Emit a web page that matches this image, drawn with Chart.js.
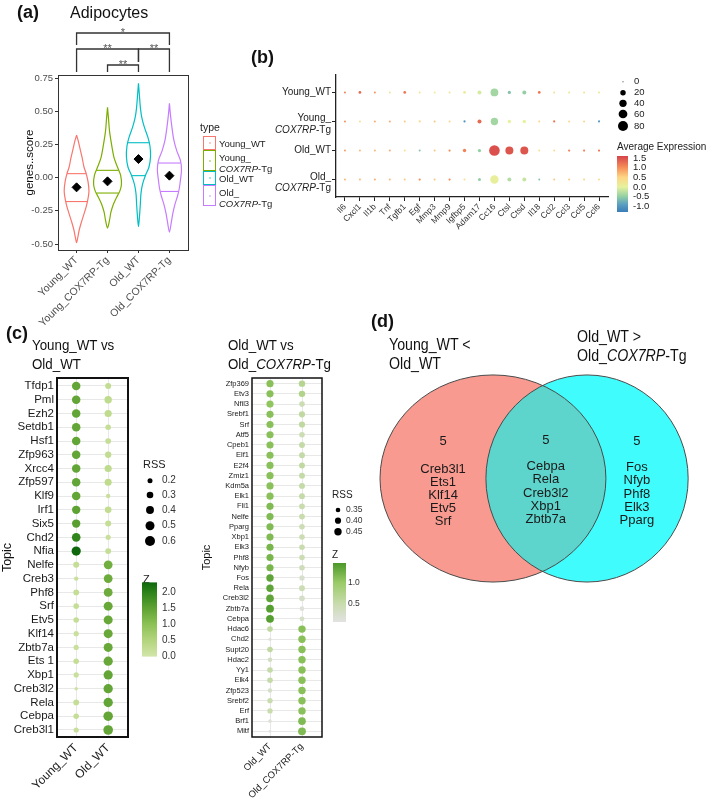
<!DOCTYPE html>
<html>
<head>
<meta charset="utf-8">
<title>Adipocytes</title>
<script src="https://cdn.jsdelivr.net/npm/chart.js@4.4.1/dist/chart.umd.min.js"></script>
<style>
  html, body { margin: 0; padding: 0; background: #fff; }
  #page { position: relative; width: 709px; height: 802px; overflow: hidden; font-family: "Liberation Sans", Arial, sans-serif; color: #111; }
  #page canvas { position: absolute; left: 0; top: 0; }
  .t { position: absolute; white-space: nowrap; }
  .tag { font-weight: bold; font-size: 18px; line-height: 20px; }
  .narrow { transform: scaleX(0.86); transform-origin: 0 0; }
  .key { position: absolute; left: 203px; width: 13px; border: 1px solid; background: #fff; box-sizing: border-box; }
  .key i { position: absolute; left: 4.5px; width: 2px; height: 2px; border-radius: 1px; opacity: 0.5; }
  .leg { left: 219px; font-size: 9.5px; line-height: 11px; color: #222; }
</style>
</head>
<body>
<div id="page">
  <canvas id="violin" width="709" height="802"></canvas>
  <canvas id="dots" width="709" height="802"></canvas>
  <canvas id="topicYO" width="709" height="802"></canvas>
  <canvas id="topicOO" width="709" height="802"></canvas>
  <canvas id="venn" width="709" height="802"></canvas>

  <div class="t tag" style="left:17px;top:2px">(a)</div>
  <div class="t" style="left:70px;top:3px;font-size:16px;line-height:20px">Adipocytes</div>
  <div class="t" style="left:200px;top:121px;font-size:10.5px;line-height:12px;color:#222">type</div>
  <div id="legendA"></div>

  <div class="t tag" style="left:251px;top:47px">(b)</div>

  <div class="t tag" style="left:6px;top:323px">(c)</div>
  <div class="t narrow" style="left:32px;top:336px;font-size:15.5px;line-height:18.5px">Young_WT vs<br>Old_WT</div>
  <div class="t narrow" style="left:228px;top:336px;font-size:15.5px;line-height:18.5px">Old_WT vs<br>Old_<i>COX7RP</i>-Tg</div>

  <div class="t tag" style="left:371px;top:311px">(d)</div>
  <div class="t narrow" style="left:389px;top:335px;font-size:16.5px;line-height:18.5px">Young_WT &lt;<br>Old_WT</div>
  <div class="t narrow" style="left:577px;top:327px;font-size:16.5px;line-height:18.5px">Old_WT &gt;<br>Old_<i>COX7RP</i>-Tg</div>
</div>

<script>
// ---------- (a) violin plot data ----------
const groupsA = ['Young_WT', 'Young_COX7RP-Tg', 'Old_WT', 'Old_COX7RP-Tg'];
const legendA = ['Young_WT', 'Young_<br><i>COX7RP</i>-Tg', 'Old_WT', 'Old_<br><i>COX7RP</i>-Tg'];
const colorsA = ['#F8766D', '#7CAE00', '#00BFC4', '#C77CFF'];
const yTicksA = [-0.5, -0.25, 0, 0.25, 0.5, 0.75];

// violin outlines: score levels (top to bottom) and half width in group units
const levelsYoungWT = [0.32, 0.28, 0.22, 0.15, 0.08, 0.03, -0.03, -0.10, -0.17, -0.22, -0.28, -0.34, -0.40, -0.45, -0.49];
const widthsYoungWT = [0, 0.05, 0.11, 0.18, 0.24, 0.31, 0.37, 0.40, 0.36, 0.31, 0.23, 0.15, 0.08, 0.04, 0];
const levelsYoungTg = [0.53, 0.45, 0.35, 0.25, 0.15, 0.08, 0.02, -0.05, -0.10, -0.15, -0.20, -0.26, -0.32, -0.38];
const widthsYoungTg = [0, 0.03, 0.065, 0.13, 0.21, 0.32, 0.42, 0.45, 0.40, 0.29, 0.19, 0.11, 0.065, 0];
const levelsOldWT = [0.71, 0.62, 0.52, 0.45, 0.38, 0.30, 0.24, 0.16, 0.08, 0.02, -0.05, -0.12, -0.20, -0.30, -0.37];
const widthsOldWT = [0, 0.03, 0.065, 0.11, 0.19, 0.31, 0.37, 0.39, 0.34, 0.23, 0.13, 0.08, 0.06, 0.03, 0];
const levelsOldTg = [0.56, 0.48, 0.38, 0.28, 0.20, 0.13, 0.06, -0.02, -0.08, -0.14, -0.20, -0.27, -0.33, -0.41];
const widthsOldTg = [0, 0.03, 0.08, 0.145, 0.24, 0.355, 0.39, 0.355, 0.32, 0.26, 0.18, 0.11, 0.065, 0];

const q75A = [0.03, 0.055, 0.263, 0.11];
const q25A = [-0.18, -0.116, 0.015, -0.104];
const meanA = [-0.073, -0.028, 0.14, 0.015];

const sigPairs = [[1, 4], [1, 3], [3, 4], [2, 3]];
const sigLabels = ['*', '**', '**', '**'];

// ---------- (b) dot plot data ----------
const genesB = ['Il6', 'Cxcl1', 'Il1b', 'Tnf', 'Tgfb1', 'Egf', 'Mmp3', 'Mmp9', 'Igfbp5', 'Adam17',
                'Cc16', 'Ctsl', 'Ctsd', 'Il18', 'Ccl2', 'Ccl3', 'Ccl5', 'Ccl6'];
const rowsB = [['Young_WT'], ['Young_', '*COX7RP*-Tg'], ['Old_WT'], ['Old_', '*COX7RP*-Tg']];
const pctYoungWT = [1, 3, 1, 1, 3, 1, 1, 1, 3, 9, 46, 5, 9, 3, 1, 1, 1, 1];
const avgYoungWT = [1.1, 1.3, 1.0, 0.2, 1.2, 0.3, 0.1, 0.2, 0.1, -0.1, -0.4, -0.6, -0.5, 1.2, 0.3, 0.2, 0.3, 0.2];
const pctYoungTg = [1, 1, 1, 1, 1, 1.5, 1, 1, 1.5, 9, 41, 6, 6, 1, 1.5, 1, 1, 1.5];
const avgYoungTg = [1.0, 0.3, 0.8, 0.8, 0.6, 0.4, 0.6, 0.5, -1.0, 1.3, -0.4, 0.0, 0.0, 0.5, 1.2, 0.5, 0.5, -0.9];
const pctOldWT = [1, 1, 1, 1, 1, 1, 1, 1.5, 6, 5, 92, 49, 49, 1, 1, 1.5, 1.5, 1.5];
const avgOldWT = [0.9, 0.7, 0.7, 0.8, 0.3, -0.6, 0.6, 1.0, 1.1, -0.5, 1.5, 1.45, 1.45, 0.3, 0.4, 1.1, 1.1, 1.2];
const pctOldTg = [1, 1, 1, 1, 1, 1.5, 1, 1.5, 1, 4, 55, 9, 9, 1, 1, 1, 1, 1];
const avgOldTg = [0.7, 0.7, 0.8, 0.7, 0.6, 1.0, 0.6, 1.0, 0.3, -0.5, 0.05, -0.3, -0.2, -0.6, 0.6, 0.6, 0.5, 0.4];
const sizeTicksB = [0, 20, 40, 60, 80];
const exprTicksB = [1.5, 1.0, 0.5, 0.0, -0.5, -1.0];

// ---------- (c) regulon dot plots ----------
const colsYO = ['Young_WT', 'Old_WT'];
const tfsYO = ['Tfdp1', 'Pml', 'Ezh2', 'Setdb1', 'Hsf1', 'Zfp963', 'Xrcc4', 'Zfp597', 'Klf9', 'Irf1', 'Six5', 'Chd2', 'Nfia',
               'Nelfe', 'Creb3', 'Phf8', 'Srf', 'Etv5', 'Klf14', 'Zbtb7a', 'Ets 1', 'Xbp1', 'Creb3l2', 'Rela', 'Cebpa', 'Creb3l1'];
const rssYoungWT = [0.45, 0.45, 0.45, 0.45, 0.45, 0.45, 0.45, 0.45, 0.45, 0.44, 0.44, 0.46, 0.52,
                    0.26, 0.17, 0.24, 0.23, 0.23, 0.21, 0.21, 0.23, 0.21, 0.13, 0.24, 0.23, 0.21];
const zYoungWT = [1.45, 1.45, 1.45, 1.45, 1.45, 1.45, 1.45, 1.45, 1.45, 1.5, 1.55, 1.95, 2.3,
                  0.2, 0.15, 0.2, 0.2, 0.2, 0.15, 0.15, 0.2, 0.15, 0.1, 0.2, 0.2, 0.15];
const rssOldWT = [0.26, 0.36, 0.34, 0.23, 0.24, 0.28, 0.34, 0.33, 0.17, 0.30, 0.26, 0.21, 0.25,
                  0.48, 0.48, 0.48, 0.50, 0.50, 0.50, 0.50, 0.52, 0.52, 0.53, 0.53, 0.55, 0.56];
const zOldWT = [0.25, 0.3, 0.3, 0.2, 0.2, 0.25, 0.3, 0.3, 0.15, 0.25, 0.2, 0.15, 0.2,
                1.3, 1.35, 1.35, 1.4, 1.4, 1.4, 1.4, 1.4, 1.45, 1.45, 1.45, 1.45, 1.45];
const rssTicksYO = [0.2, 0.3, 0.4, 0.5, 0.6];
const zTicksYO = [2.0, 1.5, 1.0, 0.5, 0.0];

const colsOO = ['Old_WT', 'Old_COX7RP-Tg'];
const tfsOO = ['Zfp369', 'Etv3', 'Nfil3', 'Srebf1', 'Srf', 'Atf5', 'Cpeb1', 'Elf1', 'E2f4', 'Zmiz1', 'Kdm5a', 'Elk1',
               'Fli1', 'Nelfe', 'Pparg', 'Xbp1', 'Elk3', 'Phf8', 'Nfyb', 'Fos', 'Rela', 'Creb3l2', 'Zbtb7a', 'Cebpa',
               'Hdac6', 'Chd2', 'Supt20', 'Hdac2', 'Yy1', 'Elk4', 'Zfp523', 'Srebf2', 'Erf', 'Brf1', 'Mitf'];
const rssOldWT2 = [0.44, 0.44, 0.44, 0.44, 0.44, 0.44, 0.44, 0.44, 0.44, 0.44, 0.44, 0.44,
                   0.44, 0.44, 0.44, 0.44, 0.44, 0.44, 0.44, 0.45, 0.45, 0.46, 0.47, 0.47,
                   0.38, 0.32, 0.38, 0.35, 0.38, 0.38, 0.345, 0.37, 0.37, 0.325, 0.31];
const zOldWT2 = [1.1, 1.1, 1.05, 1.1, 1.1, 1.1, 1.1, 1.1, 1.1, 1.1, 1.1, 1.1,
                 1.15, 1.15, 1.15, 1.15, 1.2, 1.2, 1.2, 1.35, 1.35, 1.35, 1.4, 1.4,
                 0.6, 0.15, 0.6, 0.35, 0.55, 0.55, 0.3, 0.5, 0.5, 0.15, 0.1];
const rssOldTg = [0.41, 0.41, 0.38, 0.40, 0.40, 0.38, 0.39, 0.39, 0.39, 0.39, 0.39, 0.39,
                  0.39, 0.39, 0.38, 0.38, 0.38, 0.38, 0.38, 0.37, 0.39, 0.38, 0.35, 0.36,
                  0.45, 0.45, 0.45, 0.45, 0.45, 0.45, 0.45, 0.45, 0.45, 0.46, 0.47];
const zOldTg = [0.7, 0.75, 0.45, 0.6, 0.6, 0.45, 0.55, 0.55, 0.6, 0.55, 0.55, 0.55,
                0.5, 0.5, 0.45, 0.45, 0.5, 0.45, 0.4, 0.25, 0.45, 0.3, 0.15, 0.3,
                1.1, 1.1, 1.1, 1.1, 1.1, 1.1, 1.1, 1.1, 1.1, 1.15, 1.15];
const rssTicksOO = [0.35, 0.40, 0.45];
const zTicksOO = [1.0, 0.5];

// ---------- (d) Venn sets ----------
const onlyYoungVsOld = ['Creb3l1', 'Ets1', 'Klf14', 'Etv5', 'Srf'];
const sharedSets = ['Cebpa', 'Rela', 'Creb3l2', 'Xbp1', 'Zbtb7a'];
const onlyOldVsTg = ['Fos', 'Nfyb', 'Phf8', 'Elk3', 'Pparg'];

// ---------- styles ----------
const FONT = '"Liberation Sans", Arial, sans-serif';
const exprStops = [[-1.3, '#3b7db8'], [-0.9, '#5b9fc1'], [-0.5, '#93cfa4'], [0, '#e6f29e'], [0.5, '#fdd585'], [1.0, '#f68f59'], [1.6, '#d5434a']];
const zStopsYO = [[0, '#d1e5a8'], [0.5, '#b2d47c'], [1.0, '#8cc155'], [1.5, '#5ea232'], [2.0, '#2c8219'], [2.35, '#0a630b']];
const zStopsOO = [[0.08, '#e2e2e2'], [0.5, '#c9dcae'], [1.0, '#9acb66'], [1.46, '#4b9829']];

const W = 709, H = 802;
Chart.defaults.font.family = FONT;
Chart.defaults.color = '#222';
Chart.defaults.animation = false;
Chart.defaults.events = [];
Chart.defaults.plugins.legend.display = false;
Chart.defaults.plugins.tooltip.enabled = false;
Chart.defaults.responsive = false;

function pad(left, top, right, bottom, yAxisW, xAxisH) {
  return { left: left - yAxisW, top: top, right: W - right, bottom: H - bottom - xAxisH };
}
function hexRgb(h) {
  const n = parseInt(h.slice(1), 16);
  return [(n >> 16) & 255, (n >> 8) & 255, n & 255];
}
function rampColor(stops, v) {
  if (v <= stops[0][0]) return stops[0][1];
  for (let i = 1; i < stops.length; i++) {
    if (v <= stops[i][0]) {
      const t = (v - stops[i - 1][0]) / (stops[i][0] - stops[i - 1][0]);
      const a = hexRgb(stops[i - 1][1]), b = hexRgb(stops[i][1]);
      return 'rgb(' + a.map((c, k) => Math.round(c + t * (b[k] - c))).join(',') + ')';
    }
  }
  return stops[stops.length - 1][1];
}
function rampBar(ctx, stops, x, top, w, h, vTop, vBottom) {
  const g = ctx.createLinearGradient(0, top, 0, top + h);
  g.addColorStop(0, rampColor(stops, vTop));
  stops.forEach(([v, c]) => {
    const t = (vTop - v) / (vTop - vBottom);
    if (t > 0 && t < 1) g.addColorStop(t, c);
  });
  g.addColorStop(1, rampColor(stops, vBottom));
  ctx.fillStyle = g;
  ctx.fillRect(x, top, w, h);
}
function label(ctx, str, x, y, size, color, align, style) {
  ctx.font = (style || '') + ' ' + size + 'px ' + FONT;
  ctx.fillStyle = color || '#222';
  ctx.textAlign = align || 'left';
  ctx.textBaseline = 'middle';
  ctx.fillText(str, x, y);
}
// right-aligned line, parts between * are italic
function mixedRight(ctx, line, xRight, y, size, color) {
  const parts = line.split('*');
  const fonts = parts.map((p, i) => (i % 2 ? 'italic ' : '') + size + 'px ' + FONT);
  const widths = parts.map((p, i) => { ctx.font = fonts[i]; return ctx.measureText(p).width; });
  let x = xRight - widths.reduce((a, b) => a + b, 0);
  parts.forEach((p, i) => {
    ctx.font = fonts[i];
    ctx.fillStyle = color;
    ctx.textAlign = 'left';
    ctx.textBaseline = 'middle';
    ctx.fillText(p, x, y);
    x += widths[i];
  });
}
function fixedTicks(values) {
  return axis => { axis.ticks = values.map(v => ({ value: v })); };
}
function range(n) { return Array.from({ length: n }, (_, i) => i + 1); }

// ---------- legend (a) ----------
(function () {
  const keyTops = [136, 150, 171, 185], keyH = [14, 21, 14, 21];
  let html = '';
  legendA.forEach((l, i) => {
    html += '<div class="key" style="top:' + keyTops[i] + 'px;height:' + keyH[i] + 'px;border-color:' + colorsA[i] + '">' +
            '<i style="top:' + (keyH[i] / 2 - 2) + 'px;background:' + colorsA[i] + '"></i></div>';
    html += '<div class="t leg" style="top:' + (keyTops[i] + 1.5) + 'px">' + l + '</div>';
  });
  document.getElementById('legendA').innerHTML = html;
})();

// ---------- chart (a) ----------
const violinLevels = [levelsYoungWT, levelsYoungTg, levelsOldWT, levelsOldTg];
const violinWidths = [widthsYoungWT, widthsYoungTg, widthsOldWT, widthsOldTg];
function halfWidthAt(levels, widths, v) {
  for (let k = 0; k < levels.length - 1; k++) {
    if (v <= levels[k] && v >= levels[k + 1]) {
      const t = (levels[k] - v) / (levels[k] - levels[k + 1]);
      return widths[k] + t * (widths[k + 1] - widths[k]);
    }
  }
  return 0;
}
const violinSets = [];
groupsA.forEach((g, i) => {
  const ys = violinLevels[i], ws = violinWidths[i], xc = i + 1;
  const pts = ys.map((y, k) => ({ x: xc + ws[k], y: y }));
  for (let k = ys.length - 2; k >= 0; k--) pts.push({ x: xc - ws[k], y: ys[k] });
  violinSets.push({ data: pts, showLine: true, borderColor: colorsA[i], borderWidth: 1.2, pointRadius: 0, tension: 0.3, fill: false });
  [q75A[i], q25A[i]].forEach(q => {
    const w = halfWidthAt(ys, ws, q);
    violinSets.push({ data: [{ x: xc - w, y: q }, { x: xc + w, y: q }], showLine: true, borderColor: colorsA[i], borderWidth: 1.1, pointRadius: 0 });
  });
});
violinSets.push({ data: meanA.map((m, i) => ({ x: i + 1, y: m })), pointStyle: 'rectRot', pointRadius: 4.5, pointBackgroundColor: '#000', pointBorderColor: '#000' });

const bracketRise = [42, 26, 26, 10];
const bracketTips = [[12, 12], [23, 13], [13, 23], [7, 7]];
const frameA = {
  id: 'frameA',
  afterDraw(chart) {
    const { ctx, chartArea: a, scales: { x } } = chart;
    ctx.save();
    ctx.strokeStyle = '#333';
    ctx.lineWidth = 1;
    ctx.strokeRect(a.left + 0.5, a.top + 0.5, a.right - a.left, a.bottom - a.top);
    ctx.lineWidth = 1.3;
    sigPairs.forEach(([g1, g2], i) => {
      const yl = a.top - bracketRise[i];
      const x1 = x.getPixelForValue(g1), x2 = x.getPixelForValue(g2);
      ctx.beginPath();
      ctx.moveTo(x1, yl + bracketTips[i][0]);
      ctx.lineTo(x1, yl);
      ctx.lineTo(x2, yl);
      ctx.lineTo(x2, yl + bracketTips[i][1]);
      ctx.stroke();
      ctx.font = '11px ' + FONT;
      ctx.fillStyle = '#555';
      ctx.textAlign = 'center';
      ctx.textBaseline = 'alphabetic';
      ctx.fillText(sigLabels[i], (x1 + x2) / 2, yl + 3);
    });
    ctx.restore();
  }
};
const tickGrid = { display: true, drawOnChartArea: false, drawTicks: true, tickLength: 3, color: '#333' };

new Chart('violin', {
  type: 'scatter',
  data: { datasets: violinSets },
  options: {
    layout: { padding: pad(58, 75, 188, 250, 35, 80) },
    scales: {
      x: {
        type: 'linear', min: 0.4, max: 4.6,
        afterBuildTicks: fixedTicks([1, 2, 3, 4]),
        afterFit: a => { a.height = 80; },
        ticks: { callback: v => groupsA[v - 1], minRotation: 45, maxRotation: 45, autoSkip: false, color: '#4d4d4d', font: { size: 10.5 }, padding: 1 },
        grid: tickGrid, border: { display: false }
      },
      y: {
        min: -0.545, max: 0.773,
        afterBuildTicks: fixedTicks(yTicksA),
        afterFit: a => { a.width = 35; },
        ticks: { callback: v => v.toFixed(2), color: '#4d4d4d', font: { size: 9.5 }, padding: 2 },
        grid: tickGrid, border: { display: false },
        title: { display: true, text: 'genes..score', font: { size: 11.5 }, color: '#111', padding: 0 }
      }
    }
  },
  plugins: [frameA]
});

// ---------- chart (b) ----------
const pctRows = [pctYoungWT, pctYoungTg, pctOldWT, pctOldTg];
const avgRows = [avgYoungWT, avgYoungTg, avgOldWT, avgOldTg];
const dotsB = [];
pctRows.forEach((row, r) => row.forEach((p, c) => dotsB.push({ x: c + 1, y: r + 1, pct: p, avg: avgRows[r][c] })));
const dotR = p => 0.5 * Math.sqrt(p) + 0.5;
const sizeLegendY = [81.7, 92.7, 103.3, 114, 126];
const exprBar = { x: 617, top: 156, w: 11, h: 56, vTop: 1.6, vBottom: -1.3 };

const decorB = {
  id: 'decorB',
  afterDraw(chart) {
    const { ctx, chartArea: a, scales: { y } } = chart;
    ctx.save();
    rowsB.forEach((lines, i) => {
      const yc = y.getPixelForValue(i + 1);
      const offs = lines.length === 1 ? [0] : [-2.8, 9];
      lines.forEach((ln, k) => mixedRight(ctx, ln, a.left - 5, yc + offs[k], 10, '#222'));
    });
    sizeTicksB.forEach((p, k) => {
      ctx.beginPath();
      ctx.arc(623, sizeLegendY[k], dotR(p), 0, Math.PI * 2);
      ctx.fillStyle = '#000';
      ctx.fill();
      label(ctx, String(p), 634, sizeLegendY[k], 9.5, '#222');
    });
    label(ctx, 'Average Expression', 617, 147.5, 10, '#222');
    rampBar(ctx, exprStops, exprBar.x, exprBar.top, exprBar.w, exprBar.h, exprBar.vTop, exprBar.vBottom);
    exprTicksB.forEach(v => {
      const yy = exprBar.top + (exprBar.vTop - v) / (exprBar.vTop - exprBar.vBottom) * exprBar.h;
      label(ctx, v.toFixed(1), 633, yy, 9.5, '#222');
    });
    ctx.restore();
  }
};
const axisGridB = { display: true, drawOnChartArea: false, drawTicks: true, tickLength: 4, color: '#222' };

new Chart('dots', {
  type: 'scatter',
  data: {
    datasets: [{
      data: dotsB,
      pointRadius: c => c.raw ? dotR(c.raw.pct) : 1,
      pointBackgroundColor: c => c.raw ? rampColor(exprStops, c.raw.avg) : '#ccc',
      pointBorderWidth: 0
    }]
  },
  options: {
    layout: { padding: pad(336, 75, 608, 197, 96, 45) },
    scales: {
      x: {
        type: 'linear', min: 0.4, max: 18.6,
        afterBuildTicks: fixedTicks(range(18)),
        afterFit: a => { a.height = 45; },
        ticks: { callback: v => genesB[v - 1], minRotation: 45, maxRotation: 45, autoSkip: false, color: '#333', font: { size: 8.5 }, padding: 1 },
        grid: axisGridB, border: { display: true, color: '#222', width: 1.3 }
      },
      y: {
        type: 'linear', min: 0.4, max: 4.6, reverse: true,
        afterBuildTicks: fixedTicks([1, 2, 3, 4]),
        afterFit: a => { a.width = 96; },
        ticks: { callback: () => '' },
        grid: axisGridB, border: { display: true, color: '#222', width: 1.3 }
      }
    }
  },
  plugins: [decorB]
});

// ---------- charts (c) ----------
function topicChart(id, opt) {
  const sets = opt.cols.map((col, j) => ({
    data: opt.tfs.map((t, i) => ({ x: j + 1, y: i + 1, rss: opt.rss[j][i], z: opt.z[j][i] })),
    pointRadius: c => c.raw ? opt.size(c.raw.rss) : 2,
    pointBackgroundColor: c => c.raw ? rampColor(opt.stops, c.raw.z) : '#ccc',
    pointBorderWidth: 0
  }));
  const decor = {
    id: 'decor' + id,
    afterDraw(chart) {
      const { ctx, chartArea: a } = chart;
      ctx.save();
      ctx.strokeStyle = '#111';
      ctx.lineWidth = opt.frame;
      ctx.strokeRect(a.left, a.top, a.right - a.left, a.bottom - a.top);
      const L = opt.legend;
      label(ctx, 'RSS', L.x, L.rssTitle, L.title, '#222');
      opt.rssTicks.forEach((r, k) => {
        ctx.beginPath();
        ctx.arc(L.dotX, L.dotY[k], opt.size(r), 0, Math.PI * 2);
        ctx.fillStyle = '#000';
        ctx.fill();
        label(ctx, r.toFixed(opt.rssDigits), L.textX, L.dotY[k], L.text, '#333');
      });
      label(ctx, 'Z', L.x, L.zTitle, L.title, '#222');
      const B = L.bar;
      rampBar(ctx, opt.stops, B.x, B.top, B.w, B.h, B.vTop, B.vBottom);
      opt.zTicks.forEach(v => {
        const yy = B.top + (B.vTop - v) / (B.vTop - B.vBottom) * B.h;
        label(ctx, v.toFixed(1), L.barTextX, yy, L.text, '#333');
      });
      ctx.restore();
    }
  };
  const grid = { color: '#e8e8e8', lineWidth: 1, drawTicks: false };
  new Chart(id, {
    type: 'scatter',
    data: { datasets: sets },
    options: {
      layout: { padding: opt.padding },
      scales: {
        x: {
          type: 'linear', min: opt.xMin, max: opt.xMax,
          afterBuildTicks: fixedTicks([1, 2]),
          afterFit: a => { a.height = opt.xAxisH; },
          ticks: { callback: v => opt.cols[v - 1], minRotation: 45, maxRotation: 45, autoSkip: false, color: '#222', font: { size: opt.xFont }, padding: 4 },
          grid: grid, border: { display: false }
        },
        y: {
          type: 'linear', min: opt.yMin, max: opt.yMax, reverse: true,
          afterBuildTicks: fixedTicks(range(opt.tfs.length)),
          afterFit: a => { a.width = opt.yAxisW; },
          ticks: { callback: v => opt.tfs[v - 1], autoSkip: false, color: '#1a1a1a', font: { size: opt.yFont }, padding: 3 },
          grid: grid, border: { display: false },
          title: { display: true, text: 'Topic', font: { size: opt.titleFont }, color: '#111', padding: 0 }
        }
      }
    },
    plugins: [decor]
  });
}

topicChart('topicYO', {
  cols: colsYO, tfs: tfsYO, rss: [rssYoungWT, rssOldWT], z: [zYoungWT, zOldWT],
  stops: zStopsYO, size: r => Math.sqrt(Math.max(1.5, 6.25 + 47 * (r - 0.2))),
  rssTicks: rssTicksYO, rssDigits: 1, zTicks: zTicksYO, frame: 2,
  padding: pad(57, 378, 128, 737, 57, 65), xAxisH: 65, yAxisW: 57,
  xMin: 0.4, xMax: 2.62, yMin: 0.42, yMax: 26.51, xFont: 12, yFont: 11.5, titleFont: 12.5,
  legend: { x: 143, rssTitle: 465, title: 11, dotX: 150, dotY: [480.7, 495, 510, 525.7, 541], textX: 162, text: 10,
            zTitle: 580, barTextX: 162, bar: { x: 142, top: 582.4, w: 15, h: 74.2, vTop: 2.3, vBottom: -0.02 } }
});

topicChart('topicOO', {
  cols: colsOO, tfs: tfsOO, rss: [rssOldWT2, rssOldTg], z: [zOldWT2, zOldTg],
  stops: zStopsOO, size: r => Math.sqrt(Math.max(1.6, 5.3 + 84 * (r - 0.35))),
  rssTicks: rssTicksOO, rssDigits: 2, zTicks: zTicksOO, frame: 1.5,
  padding: pad(252, 378, 322, 737, 52, 65), xAxisH: 65, yAxisW: 52,
  xMin: 0.4375, xMax: 2.625, yMin: 0.45, yMax: 35.55, xFont: 9.5, yFont: 7.5, titleFont: 11,
  legend: { x: 332, rssTitle: 495, title: 10, dotX: 338, dotY: [510, 520.7, 531.7], textX: 346, text: 8.5,
            zTitle: 555, barTextX: 348, bar: { x: 333, top: 563, w: 13, h: 59, vTop: 1.46, vBottom: 0.08 } }
});

// ---------- chart (d) Venn ----------
const vennShapes = [
  { cx: 0.353, cy: 0.4885, rx: 0.353, ry: 0.475, fill: '#f89a8f' },
  { cx: 0.647, cy: 0.4885, rx: 0.316, ry: 0.475, fill: '#41fcfc' }
];
const vennOverlap = '#5dd5cd';
const vennColX = [0.197, 0.518, 0.803];
const vennCountY = [0.32, 0.312, 0.32];
const vennGeneY = [0.445, 0.434, 0.439];
const vennStep = 0.0605;

const vennDraw = {
  id: 'vennDraw',
  afterDraw(chart) {
    const { ctx, scales: { x, y } } = chart;
    const path = s => {
      const px = x.getPixelForValue(s.cx), py = y.getPixelForValue(s.cy);
      ctx.beginPath();
      ctx.ellipse(px, py, Math.abs(x.getPixelForValue(s.cx + s.rx) - px), Math.abs(y.getPixelForValue(s.cy + s.ry) - py), 0, 0, Math.PI * 2);
    };
    ctx.save();
    vennShapes.forEach(s => { path(s); ctx.fillStyle = s.fill; ctx.fill(); });
    ctx.save();
    path(vennShapes[0]); ctx.clip();
    path(vennShapes[1]); ctx.fillStyle = vennOverlap; ctx.fill();
    ctx.restore();
    ctx.strokeStyle = '#4a4a4a';
    ctx.lineWidth = 1;
    vennShapes.forEach(s => { path(s); ctx.stroke(); });
    [onlyYoungVsOld, sharedSets, onlyOldVsTg].forEach((set, j) => {
      const px = x.getPixelForValue(vennColX[j]);
      label(ctx, String(set.length), px, y.getPixelForValue(vennCountY[j]), 13, '#1a1a1a', 'center');
      set.forEach((g, k) => label(ctx, g, px, y.getPixelForValue(vennGeneY[j] + k * vennStep), 13, '#1a1a1a', 'center'));
    });
    ctx.restore();
  }
};

new Chart('venn', {
  type: 'scatter',
  data: { datasets: [] },
  options: {
    layout: { padding: { left: 380, top: 372, right: W - 700, bottom: H - 590 } },
    scales: {
      x: { display: false, min: 0, max: 1 },
      y: { display: false, min: 0, max: 1, reverse: true }
    }
  },
  plugins: [vennDraw]
});
</script>
</body>
</html>
